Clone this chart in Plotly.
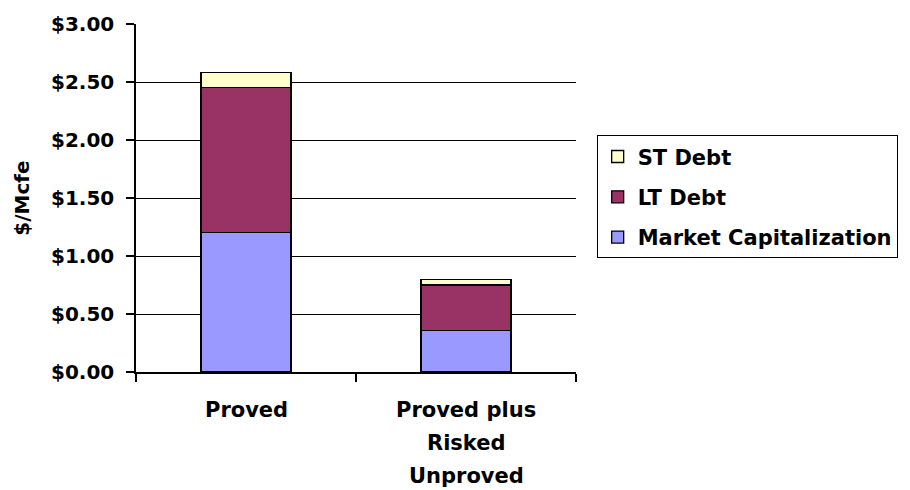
import plotly.graph_objects as go

# Value per Mcfe, split by component of enterprise value
categories = ["Proved", "Proved plus<br>Risked<br>Unproved"]
market_cap = [1.20, 0.36]
lt_debt = [1.25, 0.39]
st_debt = [0.13, 0.05]

y_ticks = [0.0, 0.5, 1.0, 1.5, 2.0, 2.5, 3.0]
y_tick_text = ["$0.00", "$0.50", "$1.00", "$1.50", "$2.00", "$2.50", "$3.00"]

FONT = "DejaVu Sans, Arial, sans-serif"
bar_line = dict(color="black", width=1.3)

fig = go.Figure()
fig.add_trace(go.Bar(x=categories, y=market_cap, name="Market Capitalization",
                     legendgroup="mc", legendrank=3,
                     marker=dict(color="#9999FF", line=bar_line)))
fig.add_trace(go.Bar(x=categories, y=lt_debt, name="LT Debt",
                     legendgroup="lt", legendrank=2,
                     marker=dict(color="#993366", line=bar_line)))
fig.add_trace(go.Bar(x=categories, y=st_debt, name="ST Debt",
                     legendgroup="st", legendrank=1,
                     marker=dict(color="#FFFFCC", line=bar_line)))

# Category labels: one annotation per line so the line spacing can be set
line_gap = 33
first_line = 38
for cat in categories:
    for j, part in enumerate(cat.split("<br>")):
        fig.add_annotation(
            x=cat, xref="x", y=0, yref="paper",
            text=part, showarrow=False,
            xanchor="center", yanchor="middle",
            yshift=-(first_line + j * line_gap),
            font=dict(size=21, family=FONT, color="black", weight="bold"),
        )

fig.update_layout(
    width=910, height=490,
    margin=dict(l=136, r=333, t=18, b=118),
    barmode="stack",
    bargap=0.59,
    paper_bgcolor="white",
    plot_bgcolor="white",
    font=dict(family=FONT, color="black", size=20),
    showlegend=True,
    legend=dict(
        x=1.047, y=0.68, xanchor="left", yanchor="top",
        traceorder="grouped",
        bordercolor="black", borderwidth=1,
        font=dict(size=21, family=FONT, color="black", weight="bold"),
        tracegroupgap=10,
    ),
    xaxis=dict(
        showgrid=False,
        showline=True, linecolor="black", linewidth=1.5,
        ticks="outside", tickson="boundaries", ticklen=8,
        tickcolor="black", tickwidth=1.5,
        showticklabels=False,
        fixedrange=True,
    ),
    yaxis=dict(
        range=[0, 3],
        tickvals=y_ticks, ticktext=y_tick_text,
        showgrid=True, gridcolor="black", gridwidth=1,
        showline=True, linecolor="black", linewidth=1.5,
        ticks="outside", ticklen=8, tickcolor="black", tickwidth=1.5,
        ticklabelstandoff=8,
        tickfont=dict(size=20, family=FONT, weight="bold"),
        title=dict(text="$/Mcfe", standoff=16,
                   font=dict(size=20, family=FONT, weight="bold")),
        zeroline=False,
        fixedrange=True,
    ),
)

fig.write_html("out.html")
